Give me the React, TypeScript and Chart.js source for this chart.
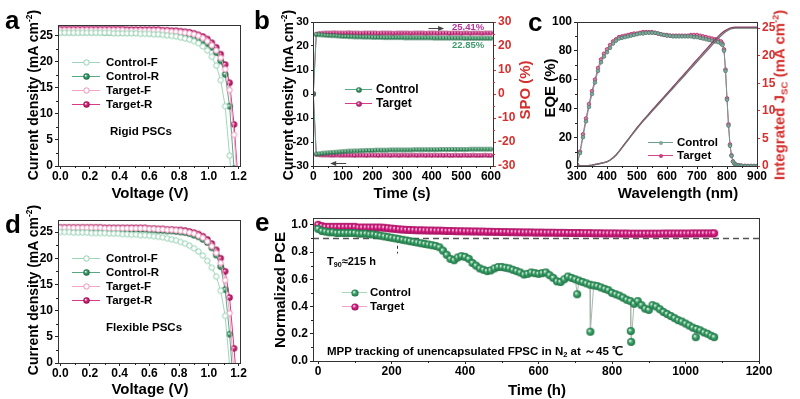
import React, { useEffect, useRef } from 'react';
import { Chart, registerables } from 'chart.js';

Chart.register(...registerables);

const FONT = "'Liberation Sans', Arial, Helvetica, sans-serif";
const W = 800;
const H = 399;

// ---------------- Panel a / d : J-V curves ----------------
const jvVoltage = [0, 0.03, 0.06, 0.09, 0.12, 0.15, 0.18, 0.21, 0.24, 0.27, 0.3, 0.33, 0.36, 0.39, 0.42, 0.45, 0.48, 0.51, 0.54, 0.57, 0.6, 0.63, 0.66, 0.69, 0.72, 0.75, 0.78, 0.81, 0.84, 0.87, 0.9, 0.93, 0.96, 0.99, 1.02, 1.05, 1.08, 1.11, 1.14, 1.17, 1.2];
const jvTicksX = [0, 0.2, 0.4, 0.6, 0.8, 1.0, 1.2];
const jvMinorX = [0.1, 0.3, 0.5, 0.7, 0.9, 1.1];
const jvTicksY = [0, 5, 10, 15, 20, 25];
const jvMinorY = [2.5, 7.5, 12.5, 17.5, 22.5];

const aControlF = [25.6, 25.6, 25.6, 25.6, 25.6, 25.6, 25.6, 25.6, 25.6, 25.6, 25.6, 25.6, 25.5, 25.5, 25.5, 25.5, 25.5, 25.5, 25.4, 25.4, 25.4, 25.3, 25.3, 25.2, 25.1, 25.0, 24.9, 24.7, 24.5, 24.3, 24.0, 23.6, 23.0, 22.2, 21.0, 19.3, 16.5, 11.5, 2.0, -10, null];
const aControlR = [25.8, 25.8, 25.8, 25.8, 25.8, 25.8, 25.8, 25.8, 25.8, 25.8, 25.7, 25.7, 25.7, 25.7, 25.7, 25.7, 25.7, 25.7, 25.7, 25.7, 25.6, 25.6, 25.5, 25.5, 25.4, 25.4, 25.3, 25.2, 25.1, 24.9, 24.7, 24.4, 24.0, 23.5, 22.8, 21.8, 20.2, 17.6, 11.5, -0.5, null];
const aTargetF = [26.1, 26.1, 26.1, 26.1, 26.1, 26.1, 26.1, 26.1, 26.1, 26.1, 26.1, 26.1, 26.1, 26.1, 26.1, 26.0, 26.0, 26.0, 26.0, 26.0, 26.0, 26.0, 26.0, 25.9, 25.9, 25.8, 25.8, 25.7, 25.6, 25.5, 25.3, 25.0, 24.6, 24.0, 23.2, 22.2, 20.8, 18.6, 14.6, 6.0, -6];
const aTargetR = [26.3, 26.3, 26.3, 26.3, 26.3, 26.3, 26.3, 26.3, 26.3, 26.3, 26.3, 26.3, 26.3, 26.3, 26.3, 26.2, 26.2, 26.2, 26.2, 26.2, 26.2, 26.2, 26.2, 26.1, 26.1, 26.0, 26.0, 25.9, 25.8, 25.7, 25.5, 25.2, 24.9, 24.4, 23.7, 22.8, 21.5, 19.5, 16.0, 8.0, -4];

const dControlF = [25.0, 25.0, 25.0, 24.9, 24.9, 24.9, 24.9, 24.8, 24.8, 24.8, 24.8, 24.7, 24.7, 24.7, 24.6, 24.6, 24.5, 24.5, 24.4, 24.4, 24.3, 24.2, 24.1, 24.0, 23.8, 23.6, 23.4, 23.1, 22.8, 22.4, 21.9, 21.3, 20.5, 19.5, 18.2, 16.5, 13.8, 9.0, -0.5, null, null];
const dControlR = [25.6, 25.6, 25.6, 25.6, 25.6, 25.6, 25.6, 25.6, 25.6, 25.6, 25.5, 25.5, 25.5, 25.5, 25.5, 25.5, 25.5, 25.5, 25.5, 25.5, 25.4, 25.4, 25.3, 25.3, 25.2, 25.2, 25.1, 25.0, 24.9, 24.7, 24.4, 24.1, 23.6, 23.0, 22.0, 20.6, 18.4, 14.0, 5.5, -6, null];
const dTargetF = [25.8, 25.8, 25.8, 25.8, 25.8, 25.8, 25.8, 25.8, 25.8, 25.8, 25.7, 25.7, 25.7, 25.7, 25.7, 25.7, 25.7, 25.7, 25.7, 25.7, 25.6, 25.6, 25.5, 25.5, 25.4, 25.4, 25.3, 25.2, 25.1, 24.9, 24.7, 24.3, 23.9, 23.2, 22.3, 21.0, 19.1, 15.8, 9.5, -2, null];
const dTargetR = [25.9, 25.9, 25.9, 25.9, 25.9, 25.9, 25.9, 25.9, 25.9, 25.9, 25.8, 25.8, 25.8, 25.8, 25.8, 25.8, 25.8, 25.8, 25.8, 25.8, 25.7, 25.7, 25.6, 25.6, 25.5, 25.5, 25.4, 25.4, 25.3, 25.1, 24.9, 24.6, 24.2, 23.6, 22.8, 21.6, 20.0, 17.5, 12.5, 2.8, -8];

// ---------------- Panel b : steady-state output ----------------
const bTime = [0, 10, 20, 30, 40, 50, 60, 70, 80, 90, 100, 110, 120, 130, 140, 150, 160, 170, 180, 190, 200, 210, 220, 230, 240, 250, 260, 270, 280, 290, 300, 310, 320, 330, 340, 350, 360, 370, 380, 390, 400, 410, 420, 430, 440, 450, 460, 470, 480, 490, 500, 510, 520, 530, 540, 550, 560, 570, 580, 590, 600];
const bTicksX = [0, 100, 200, 300, 400, 500, 600];
const bMinorX = [50, 150, 250, 350, 450, 550];
const bTicksY = [-30, -20, -10, 0, 10, 20, 30];
const bMinorY = [-25, -15, -5, 5, 15, 25];
const bControlJ = [0, -25.0, -24.9, -24.7, -24.6, -24.5, -24.4, -24.3, -24.2, -24.1, -24.0,
  -23.9, -23.8, -23.8, -23.7, -23.7, -23.6, -23.6, -23.5, -23.5, -23.5,
  -23.4, -23.4, -23.4, -23.4, -23.4, -23.3, -23.3, -23.3, -23.3, -23.3,
  -23.3, -23.3, -23.3, -23.2, -23.2, -23.2, -23.2, -23.2, -23.2, -23.2,
  -23.2, -23.2, -23.1, -23.1, -23.1, -23.1, -23.1, -23.1, -23.1, -23.1,
  -23.1, -23.1, -23.0, -23.0, -23.0, -23.0, -23.0, -23.0, -23.0, -23.0];
const bTargetJ = [0, -25.2, -25.3, -25.4, -25.4, -25.4, -25.5, -25.5, -25.4, -25.5, -25.5,
  -25.5, -25.5, -25.5, -25.6, -25.5, -25.5, -25.5, -25.6, -25.5, -25.5,
  -25.5, -25.6, -25.5, -25.5, -25.5, -25.6, -25.5, -25.5, -25.6, -25.5,
  -25.5, -25.6, -25.5, -25.5, -25.6, -25.5, -25.5, -25.6, -25.5, -25.6,
  -25.5, -25.6, -25.5, -25.6, -25.5, -25.6, -25.6, -25.5, -25.6, -25.6,
  -25.5, -25.6, -25.6, -25.5, -25.6, -25.6, -25.6, -25.5, -25.6, -25.6];
const bControlSPO = [0, 24.8, 24.7, 24.6, 24.5, 24.4, 24.3, 24.3, 24.2, 24.1, 24.0,
  24.0, 23.9, 23.9, 23.8, 23.8, 23.8, 23.7, 23.7, 23.7, 23.6,
  23.6, 23.6, 23.6, 23.5, 23.5, 23.5, 23.5, 23.5, 23.5, 23.5,
  23.4, 23.4, 23.4, 23.4, 23.4, 23.4, 23.4, 23.4, 23.4, 23.4,
  23.3, 23.3, 23.3, 23.3, 23.3, 23.3, 23.3, 23.3, 23.3, 23.3,
  23.2, 23.2, 23.2, 23.2, 23.2, 23.2, 23.2, 23.2, 23.2, 23.2];
const bTargetSPO = [0, 24.9, 25.2, 25.3, 25.4, 25.4, 25.4, 25.5, 25.4, 25.4, 25.4,
  25.4, 25.5, 25.4, 25.4, 25.4, 25.3, 25.4, 25.4, 25.4, 25.4,
  25.4, 25.3, 25.4, 25.4, 25.4, 25.4, 25.3, 25.4, 25.4, 25.4,
  25.4, 25.4, 25.3, 25.4, 25.4, 25.4, 25.4, 25.3, 25.4, 25.4,
  25.4, 25.3, 25.4, 25.4, 25.4, 25.3, 25.4, 25.4, 25.4, 25.3,
  25.4, 25.4, 25.3, 25.4, 25.4, 25.4, 25.3, 25.4, 25.4, 25.4];

// ---------------- Panel c : EQE ----------------
const cWavelength = [300, 310, 320, 330, 340, 350, 360, 370, 380, 390, 400, 410, 420, 430, 440, 450, 460, 470, 480, 490, 500, 510, 520, 530, 540, 550, 560, 570, 580, 590, 600, 610, 620, 630, 640, 650, 660, 670, 680, 690, 700, 710, 720, 730, 740, 750, 760, 770, 780, 785, 790, 795, 800, 805, 810, 815, 820, 825, 830, 835, 840, 845, 850, 860, 870, 880, 890, 900];
const cControlEQE = [1, 9, 20, 31, 41, 50, 58, 66, 72, 76,
  79, 82, 85, 87, 88.5, 89, 89.5, 90, 90.5, 91,
  91.5, 92, 92, 92.5, 92.5, 92.5, 92.5, 92, 91.5, 91,
  90.5, 90.5, 90, 90, 90, 90, 90, 90, 90, 89.5,
  89.5, 89, 88.5, 88, 87.5, 87, 86.5, 86, 85,
  84, 80, 66, 46, 28, 14, 7, 3, 1.5, 0.8, 0.5, 0.3, 0.2, 0.1,
  0, 0, 0, 0, 0];
const cTargetEQE = [1, 10, 22, 33, 43, 52, 60, 68, 74, 78,
  81, 84, 86.5, 88, 89.5, 90, 90.5, 91, 91.5, 92,
  92, 92.5, 93, 93, 93, 93, 92.5, 92, 91.5, 91,
  91, 90.5, 90.5, 90.5, 90.5, 90.5, 90.5, 90.5, 91, 91,
  91, 90.5, 90, 89.5, 89, 88.5, 88, 87.5, 86.5,
  85, 81, 67, 47, 29, 15, 7.5, 3.2, 1.6, 0.9, 0.5, 0.3, 0.2, 0.1,
  0.1, 0, 0, 0, 0];
const cJscWavelength = [300, 310, 320, 330, 340, 350, 360, 370, 380, 390, 400, 410, 420, 430, 440, 450, 460, 470, 480, 490, 500, 510, 520, 530, 540, 550, 560, 570, 580, 590, 600, 610, 620, 630, 640, 650, 660, 670, 680, 690, 700, 710, 720, 730, 740, 750, 760, 770, 780, 790, 800, 810, 820, 830, 840, 850, 860, 870, 880, 890, 900];
const cControlJsc = [0, 0, 0.02, 0.05, 0.1, 0.17, 0.26, 0.36, 0.48, 0.6,
  0.75, 1.05, 1.45, 1.95, 2.6, 3.3, 4.0, 4.7, 5.4, 6.1,
  6.8, 7.45, 8.1, 8.7, 9.3, 9.9, 10.5, 11.1, 11.7, 12.3,
  12.9, 13.5, 14.1, 14.7, 15.3, 15.9, 16.5, 17.1, 17.7, 18.3,
  18.9, 19.5, 20.1, 20.7, 21.3, 21.9, 22.5, 23.1, 23.6, 24.1,
  24.5, 24.8, 24.95, 25.0, 25.0, 25.0, 25.0, 25.0, 25.0, 25.0,
  25.0];
const cTargetJsc = [0, 0, 0.02, 0.05, 0.1, 0.17, 0.27, 0.38, 0.5, 0.63,
  0.78, 1.08, 1.5, 2.0, 2.66, 3.37, 4.08, 4.8, 5.51, 6.22,
  6.93, 7.6, 8.26, 8.87, 9.48, 10.1, 10.71, 11.32, 11.93, 12.54,
  13.15, 13.76, 14.37, 14.98, 15.6, 16.21, 16.82, 17.43, 18.05, 18.66,
  19.27, 19.88, 20.49, 21.1, 21.7, 22.3, 22.9, 23.45, 23.95, 24.4,
  24.75, 25.0, 25.12, 25.15, 25.15, 25.15, 25.15, 25.15, 25.15, 25.15,
  25.15];
const cTicksX = [300, 400, 500, 600, 700, 800, 900];
const cMinorX = [350, 450, 550, 650, 750, 850];
const cTicksY = [0, 20, 40, 60, 80, 100];
const cMinorY = [10, 30, 50, 70, 90];
const cTicksY2 = [0, 5, 10, 15, 20, 25];

// ---------------- Panel e : MPP stability ----------------
const eControlTime = [0, 10, 20, 30, 40, 50, 60, 70, 80, 90,
  100, 110, 120, 130, 140, 150, 160, 170, 180, 190,
  200, 210, 220, 230, 240, 250, 260, 270, 280, 290,
  300, 310, 320, 330, 340, 350, 360, 370, 380, 390,
  400, 410, 420, 430, 440, 450, 460, 470, 480, 490,
  500, 510, 520, 530, 540, 550, 560, 570, 580, 590,
  600, 610, 620, 630, 640, 650, 660, 670, 680, 690,
  700, 705, 710, 720, 730, 740, 741, 750, 760, 770, 780, 790,
  800, 810, 820, 830, 840, 850, 851, 852, 860, 870, 880, 890,
  900, 910, 920, 930, 940, 950, 960, 970, 980, 990,
  1000, 1010, 1020, 1028, 1030, 1040, 1050, 1060, 1070, 1078];
const eControlPCE = [0.97, 0.955, 0.95, 0.945, 0.945, 0.94, 0.94, 0.94, 0.94, 0.94,
  0.94, 0.935, 0.935, 0.935, 0.93, 0.93, 0.925, 0.92, 0.915, 0.91,
  0.905, 0.9, 0.895, 0.89, 0.885, 0.88, 0.875, 0.87, 0.865, 0.86,
  0.855, 0.85, 0.845, 0.835, 0.81, 0.78, 0.75, 0.74, 0.76, 0.77,
  0.765, 0.75, 0.72, 0.7, 0.68, 0.67, 0.66, 0.665, 0.68, 0.69,
  0.69, 0.685, 0.68, 0.67, 0.66, 0.65, 0.635, 0.64, 0.65, 0.645,
  0.64, 0.645, 0.65, 0.63, 0.61, 0.585, 0.58, 0.6, 0.62, 0.61,
  0.6, 0.49, 0.59, 0.58, 0.57, 0.56, 0.215, 0.555, 0.55, 0.54, 0.53, 0.52,
  0.5, 0.49, 0.48, 0.465, 0.45, 0.44, 0.22, 0.14, 0.42, 0.44, 0.41, 0.385,
  0.375, 0.41, 0.4, 0.38, 0.36, 0.345, 0.33, 0.315, 0.3, 0.29,
  0.275, 0.26, 0.245, 0.175, 0.235, 0.225, 0.21, 0.2, 0.185, 0.175];
const eTargetTime = [0, 10, 20, 30, 40, 50, 60, 70, 80, 90, 100,
  110, 120, 130, 140, 150, 160, 170, 180, 190, 200,
  210, 220, 230, 240, 250, 260, 270, 280, 290, 300,
  310, 320, 330, 340, 350, 360, 370, 380, 390, 400,
  410, 420, 430, 440, 450, 460, 470, 480, 490, 500,
  510, 520, 530, 540, 550, 560, 570, 580, 590, 600,
  610, 620, 630, 640, 650, 660, 670, 680, 690, 700,
  710, 720, 730, 740, 750, 760, 770, 780, 790, 800,
  810, 820, 830, 840, 850, 860, 870, 880, 890, 900,
  910, 920, 930, 940, 950, 960, 970, 980, 990, 1000,
  1010, 1020, 1030, 1040, 1050, 1060, 1070, 1078];
const eTargetPCE = [1.0, 0.99, 0.985, 0.985, 0.985, 0.985, 0.985, 0.985, 0.985, 0.985, 0.985,
  0.98, 0.98, 0.98, 0.98, 0.98, 0.98, 0.98, 0.978, 0.975, 0.972,
  0.97, 0.967, 0.965, 0.963, 0.962, 0.961, 0.96, 0.96, 0.959, 0.958,
  0.958, 0.957, 0.957, 0.956, 0.955, 0.955, 0.954, 0.953, 0.953, 0.952,
  0.952, 0.951, 0.951, 0.95, 0.95, 0.949, 0.949, 0.948, 0.948, 0.947,
  0.947, 0.946, 0.946, 0.945, 0.945, 0.944, 0.944, 0.944, 0.943, 0.943,
  0.943, 0.942, 0.942, 0.942, 0.941, 0.941, 0.941, 0.94, 0.94, 0.94,
  0.94, 0.939, 0.939, 0.939, 0.938, 0.938, 0.938, 0.937, 0.937, 0.937,
  0.937, 0.936, 0.936, 0.936, 0.935, 0.935, 0.935, 0.935, 0.935, 0.935,
  0.935, 0.935, 0.935, 0.936, 0.936, 0.936, 0.936, 0.936, 0.936, 0.936,
  0.936, 0.937, 0.937, 0.937, 0.937, 0.937, 0.937, 0.938];
const eTicksX = [0, 200, 400, 600, 800, 1000, 1200];
const eMinorX = [100, 300, 500, 700, 900, 1100];
const eTicksY = [0, 0.2, 0.4, 0.6, 0.8, 1.0];
const eMinorY = [0.1, 0.3, 0.5, 0.7, 0.9];
const eT90 = 215;
const eThreshold = 0.9;

// ---------------- helpers ----------------
function xy(xs: number[], ys: (number | null)[]) {
  return xs.map((x, i) => ({ x, y: ys[i] }));
}

function sphere(color: string, dark: string, r: number) {
  const s = Math.ceil(r * 2 + 2);
  const c = document.createElement('canvas');
  c.width = s;
  c.height = s;
  const g = c.getContext('2d')!;
  const cx = s / 2, cy = s / 2;
  const grad = g.createRadialGradient(cx - r * 0.3, cy - r * 0.3, r * 0.05, cx, cy, r);
  grad.addColorStop(0, '#ffffff');
  grad.addColorStop(0.4, color);
  grad.addColorStop(1, dark);
  g.fillStyle = grad;
  g.beginPath();
  g.arc(cx, cy, r, 0, Math.PI * 2);
  g.fill();
  return c;
}

function openCircle(stroke: string, r: number) {
  const s = Math.ceil(r * 2 + 2);
  const c = document.createElement('canvas');
  c.width = s;
  c.height = s;
  const g = c.getContext('2d')!;
  g.fillStyle = '#ffffff';
  g.strokeStyle = stroke;
  g.lineWidth = 1;
  g.beginPath();
  g.arc(s / 2, s / 2, r - 0.5, 0, Math.PI * 2);
  g.fill();
  g.stroke();
  return c;
}

function dot(color: string, r: number) {
  const s = Math.ceil(r * 2 + 2);
  const c = document.createElement('canvas');
  c.width = s;
  c.height = s;
  const g = c.getContext('2d')!;
  g.fillStyle = color;
  g.beginPath();
  g.arc(s / 2, s / 2, r, 0, Math.PI * 2);
  g.fill();
  return c;
}

function axis(position: string, min: number, max: number, ticks: number[], size: number, opts: { color?: string; fmt?: (v: number) => string; tickColor?: string; fontSize?: number; tickLength?: number } = {}) {
  const color = opts.color || '#000';
  const horizontal = position === 'bottom' || position === 'top';
  return {
    type: 'linear',
    position,
    min,
    max,
    afterBuildTicks: (s: any) => {
      s.ticks = ticks.map((v) => ({ value: v }));
    },
    afterFit: (s: any) => {
      if (horizontal) s.height = size;
      else s.width = size;
    },
    grid: { display: true, drawOnChartArea: false, drawTicks: true, tickLength: opts.tickLength ?? 3, color: opts.tickColor || '#222', lineWidth: 1 },
    border: { display: true, color: '#222', width: 1 },
    ticks: {
      autoSkip: false,
      maxRotation: 0,
      minRotation: 0,
      padding: horizontal ? 0 : 2,
      color,
      font: { family: FONT, size: opts.fontSize || 12, weight: 'bold' },
      callback: (v: any) => (opts.fmt ? opts.fmt(Number(v)) : String(v)),
    },
  };
}

function makeDeco(d: any) {
  return {
    id: 'deco',
    beforeDatasetsDraw(chart: any) {
      const { ctx, chartArea: ca, scales } = chart;
      ctx.save();
      (d.hlines || []).forEach((h: any) => {
        const y = Math.round(scales[h.axis].getPixelForValue(h.value)) + 0.5;
        ctx.strokeStyle = h.color;
        ctx.lineWidth = h.width;
        ctx.setLineDash(h.dash);
        ctx.beginPath();
        ctx.moveTo(ca.left, y);
        ctx.lineTo(ca.right, y);
        ctx.stroke();
      });
      (d.vsegs || []).forEach((v: any) => {
        const x = Math.round(scales.x.getPixelForValue(v.x)) + 0.5;
        const y0 = scales[v.axis].getPixelForValue(v.y0);
        const y1 = scales[v.axis].getPixelForValue(v.y1);
        ctx.strokeStyle = v.color;
        ctx.lineWidth = 1;
        ctx.setLineDash(v.dash);
        ctx.beginPath();
        ctx.moveTo(x, y0);
        ctx.lineTo(x, y1);
        ctx.stroke();
      });
      ctx.restore();
    },
    afterDatasetsDraw(chart: any) {
      const { ctx, chartArea: ca, scales } = chart;
      ctx.save();
      ctx.setLineDash([]);
      if (d.frame) {
        ctx.strokeStyle = d.frame;
        ctx.lineWidth = 1;
        ctx.strokeRect(Math.round(ca.left) + 0.5, Math.round(ca.top) + 0.5, Math.round(ca.right - ca.left), Math.round(ca.bottom - ca.top));
      }
      // minor ticks
      (d.minor || []).forEach((m: any) => {
        const sc = scales[m.axis];
        ctx.strokeStyle = m.color || '#222';
        ctx.lineWidth = 1;
        m.values.forEach((v: number) => {
          const p = Math.round(sc.getPixelForValue(v)) + 0.5;
          ctx.beginPath();
          if (sc.position === 'bottom') {
            ctx.moveTo(p, sc.top);
            ctx.lineTo(p, sc.top + 2);
          } else if (sc.position === 'left') {
            ctx.moveTo(sc.right, p);
            ctx.lineTo(sc.right - 2, p);
          } else {
            ctx.moveTo(sc.left, p);
            ctx.lineTo(sc.left + 2, p);
          }
          ctx.stroke();
        });
      });
      (d.arrows || []).forEach((a: any) => {
        const x0 = scales.x.getPixelForValue(a.from);
        const x1 = scales.x.getPixelForValue(a.to);
        const y = Math.round(scales[a.axis].getPixelForValue(a.y)) + 0.5;
        const dir = Math.sign(x1 - x0);
        ctx.strokeStyle = a.color;
        ctx.fillStyle = a.color;
        ctx.lineWidth = 1;
        ctx.beginPath();
        ctx.moveTo(x0, y);
        ctx.lineTo(x1 - dir * 3, y);
        ctx.stroke();
        ctx.beginPath();
        ctx.moveTo(x1, y);
        ctx.lineTo(x1 - dir * 6, y - 2.5);
        ctx.lineTo(x1 - dir * 6, y + 2.5);
        ctx.closePath();
        ctx.fill();
      });
      const L = d.legend;
      if (L) {
        L.items.forEach((it: any, i: number) => {
          const y = L.ys[i];
          ctx.strokeStyle = it.line;
          ctx.lineWidth = 1;
          ctx.beginPath();
          ctx.moveTo(L.x0, y + 0.5);
          ctx.lineTo(L.x1, y + 0.5);
          ctx.stroke();
          const img = it.img;
          ctx.drawImage(img, Math.round((L.x0 + L.x1) / 2 - img.width / 2), Math.round(y - img.height / 2 + 0.5));
          ctx.fillStyle = '#000';
          ctx.font = `bold ${L.size}px ${FONT}`;
          ctx.textBaseline = 'middle';
          ctx.textAlign = 'left';
          ctx.fillText(it.label, L.tx, y + 1);
        });
      }
      ctx.restore();
    },
  };
}

function pad(left: number, right: number, top: number, bottom: number, yw: number, xh: number, rw: number) {
  return { left: left - yw, right: W - right - rw, top, bottom: H - bottom - xh };
}

function baseOptions(padding: any, scales: any) {
  return {
    responsive: false,
    animation: false,
    devicePixelRatio: 1,
    events: [],
    layout: { padding },
    plugins: { legend: { display: false }, tooltip: { enabled: false } },
    scales,
  };
}

const fmt1 = (v: number) => v.toFixed(1);

// ---------------- text helpers ----------------
const txtBase: React.CSSProperties = { position: 'absolute', whiteSpace: 'nowrap', fontFamily: FONT, fontWeight: 'bold', lineHeight: 1, color: '#000' };

function T(props: { x: number; y: number; size?: number; color?: string; center?: boolean; children: React.ReactNode }) {
  return (
    <div style={{ ...txtBase, left: props.x, top: props.y, fontSize: props.size || 12, color: props.color || '#000', transform: props.center ? 'translate(-50%,-50%)' : 'translate(0,-50%)' }}>
      {props.children}
    </div>
  );
}

function VT(props: { x: number; y: number; size?: number; color?: string; children: React.ReactNode }) {
  return (
    <div style={{ ...txtBase, left: props.x, top: props.y, fontSize: props.size || 15, color: props.color || '#000', transform: 'translate(-50%,-50%) rotate(-90deg)' }}>
      {props.children}
    </div>
  );
}

const Sup = ({ children }: { children: React.ReactNode }) => <span style={{ fontSize: '0.6em', verticalAlign: '0.7em', lineHeight: 0 }}>{children}</span>;
const Sub = ({ children }: { children: React.ReactNode }) => <span style={{ fontSize: '0.65em', verticalAlign: '-0.3em', lineHeight: 0 }}>{children}</span>;

export default function App() {
  const rA = useRef<HTMLCanvasElement>(null);
  const rB = useRef<HTMLCanvasElement>(null);
  const rC = useRef<HTMLCanvasElement>(null);
  const rD = useRef<HTMLCanvasElement>(null);
  const rE = useRef<HTMLCanvasElement>(null);

  useEffect(() => {
    const charts: Chart[] = [];
    const GREEN = '#3d9c6c', GREEN_D = '#1e6842';
    const MAG = '#d6287c', MAG_D = '#8f0f4c';
    const ctrlF = openCircle('#8fcfae', 3.2);
    const ctrlR = sphere(GREEN, GREEN_D, 3.2);
    const tgtF = openCircle('#f08cb8', 3.2);
    const tgtR = sphere(MAG, MAG_D, 3.2);
    const LEG = 11.5;
    const RED = '#d4302e';

    const jvDatasets = (cf: any[], cr: any[], tf: any[], tr: any[]) => [
      { data: xy(jvVoltage, cf), borderColor: '#9fd6b9', borderWidth: 1, pointStyle: ctrlF, pointRadius: 3 },
      { data: xy(jvVoltage, tf), borderColor: '#f5a3c6', borderWidth: 1, pointStyle: tgtF, pointRadius: 3 },
      { data: xy(jvVoltage, cr), borderColor: '#5aa882', borderWidth: 1, pointStyle: ctrlR, pointRadius: 3 },
      { data: xy(jvVoltage, tr), borderColor: '#d83a86', borderWidth: 1, pointStyle: tgtR, pointRadius: 3 },
    ];
    const jvLegend = (ys: number[]) => ({
      x0: 72, x1: 100, tx: 106, ys, size: LEG,
      items: [
        { label: 'Control-F', line: '#9fd6b9', img: ctrlF },
        { label: 'Control-R', line: '#5aa882', img: ctrlR },
        { label: 'Target-F', line: '#f5a3c6', img: tgtF },
        { label: 'Target-R', line: '#d83a86', img: tgtR },
      ],
    });
    const jvMinor = [{ axis: 'x', values: jvMinorX }, { axis: 'y', values: jvMinorY }];

    // Panel a
    if (rA.current) {
      charts.push(new Chart(rA.current, {
        type: 'line',
        data: { datasets: jvDatasets(aControlF, aControlR, aTargetF, aTargetR) as any },
        options: baseOptions(pad(58, 240, 25, 166, 40, 20, 0), {
          x: axis('bottom', -0.015, 1.21, jvTicksX, 20, { fmt: fmt1 }),
          y: axis('left', 0, 27.1, jvTicksY, 40),
        }) as any,
        plugins: [makeDeco({ frame: '#333', minor: jvMinor, legend: jvLegend([62, 76, 90, 104]) })],
      }));
    }

    // Panel d
    if (rD.current) {
      charts.push(new Chart(rD.current, {
        type: 'line',
        data: { datasets: jvDatasets(dControlF, dControlR, dTargetF, dTargetR) as any },
        options: baseOptions(pad(58, 240, 220, 363, 40, 20, 0), {
          x: axis('bottom', -0.015, 1.21, jvTicksX, 20, { fmt: fmt1 }),
          y: axis('left', 0, 27.3, jvTicksY, 40),
        }) as any,
        plugins: [makeDeco({ frame: '#333', minor: jvMinor, legend: jvLegend([258, 272, 286, 300]) })],
      }));
    }

    // Panel b
    if (rB.current) {
      const bG = sphere('#3f9a68', '#1f6640', 2.3);
      const bM = sphere('#d8358a', '#8d0f50', 2.3);
      const bGl = sphere('#3f9a68', '#1f6640', 2.8);
      const bMl = sphere('#d8358a', '#8d0f50', 2.8);
      charts.push(new Chart(rB.current, {
        type: 'line',
        data: {
          datasets: [
            { data: xy(bTime, bControlJ), yAxisID: 'y', borderColor: '#5aa882', borderWidth: 1, pointStyle: bG, pointRadius: 2.5 },
            { data: xy(bTime, bTargetJ), yAxisID: 'y', borderColor: '#d83a86', borderWidth: 1, pointStyle: bM, pointRadius: 2.5 },
            { data: xy(bTime, bControlSPO), yAxisID: 'y1', borderColor: '#5aa882', borderWidth: 1, pointStyle: bG, pointRadius: 2.5 },
            { data: xy(bTime, bTargetSPO), yAxisID: 'y1', borderColor: '#d83a86', borderWidth: 1, pointStyle: bM, pointRadius: 2.5 },
          ] as any,
        },
        options: baseOptions(pad(313, 493, 22, 166, 40, 20, 30), {
          x: axis('bottom', -1, 607, bTicksX, 20),
          y: axis('left', -30, 30, bTicksY, 40, { fontSize: 11.5, tickLength: 2 }),
          y1: axis('right', -30, 30, bTicksY, 30, { color: RED, tickColor: RED }),
        }) as any,
        plugins: [makeDeco({
          frame: '#333',
          minor: [{ axis: 'x', values: bMinorX }, { axis: 'y1', values: bMinorY, color: RED }],
          arrows: [
            { from: 389, to: 442, y: 27.4, axis: 'y1', color: '#444' },
            { from: 111, to: 57, y: -28.9, axis: 'y', color: '#444' },
          ],
          legend: {
            x0: 345, x1: 372, tx: 376, ys: [89, 103], size: 12,
            items: [
              { label: 'Control', line: '#5aa882', img: bGl },
              { label: 'Target', line: '#d83a86', img: bMl },
            ],
          },
        })],
      }));
    }

    // Panel c
    if (rC.current) {
      const cG = '#6f9e90', cM = '#d4468a';
      charts.push(new Chart(rC.current, {
        type: 'line',
        data: {
          datasets: [
            { data: xy(cJscWavelength, cControlJsc), yAxisID: 'y1', borderColor: '#707070', borderWidth: 1.3, pointRadius: 0 },
            { data: xy(cJscWavelength, cTargetJsc), yAxisID: 'y1', borderColor: '#8e3a62', borderWidth: 1.3, pointRadius: 0 },
            { data: xy(cWavelength, cControlEQE), yAxisID: 'y', borderColor: cG, borderWidth: 1, pointStyle: 'circle', pointRadius: 1.8, pointBackgroundColor: '#7fa99b', pointBorderColor: '#557a6e', pointBorderWidth: 0.8 },
            { data: xy(cWavelength, cTargetEQE), yAxisID: 'y', borderColor: cM, borderWidth: 1, pointStyle: 'circle', pointRadius: 1.8, pointBackgroundColor: '#e07aa8', pointBorderColor: '#b02a68', pointBorderWidth: 0.8 },
          ] as any,
        },
        options: baseOptions(pad(577, 757, 22, 166, 40, 20, 30), {
          x: axis('bottom', 300, 900, cTicksX, 20),
          y: axis('left', 0, 100, cTicksY, 40),
          y1: axis('right', 0, 26.1, cTicksY2, 30, { color: RED, tickColor: RED }),
        }) as any,
        plugins: [makeDeco({
          frame: '#333',
          minor: [{ axis: 'x', values: cMinorX }, { axis: 'y', values: cMinorY }],
          legend: {
            x0: 648, x1: 673, tx: 677, ys: [142, 155], size: LEG,
            items: [
              { label: 'Control', line: cG, img: dot('#7fa99b', 2) },
              { label: 'Target', line: cM, img: dot('#c8407e', 2) },
            ],
          },
        })],
      }));
    }

    // Panel e
    if (rE.current) {
      const eG = sphere('#40a86e', '#1f7043', 4);
      const eM = sphere('#e2238a', '#9a0c58', 4);
      const eGl = sphere('#40a86e', '#1f7043', 3.6);
      const eMl = sphere('#e2238a', '#9a0c58', 3.6);
      charts.push(new Chart(rE.current, {
        type: 'line',
        data: {
          datasets: [
            { data: xy(eControlTime, eControlPCE), borderColor: '#a9b8ae', borderWidth: 1, pointStyle: eG, pointRadius: 4 },
            { data: xy(eTargetTime, eTargetPCE), borderColor: '#f08cc0', borderWidth: 1, pointStyle: eM, pointRadius: 4 },
          ] as any,
        },
        options: baseOptions(pad(313, 759, 218, 361, 40, 20, 0), {
          x: axis('bottom', -14, 1200, eTicksX, 20),
          y: axis('left', 0, 1.05, eTicksY, 40, { fmt: fmt1 }),
        }) as any,
        plugins: [makeDeco({
          frame: '#333',
          minor: [{ axis: 'x', values: eMinorX }, { axis: 'y', values: eMinorY }],
          hlines: [{ axis: 'y', value: eThreshold, color: '#555', dash: [6, 4], width: 1.3 }],
          vsegs: [{ x: eT90, y0: 0.89, y1: 0.79, axis: 'y', color: '#333', dash: [3, 3] }],
          legend: {
            x0: 342, x1: 367, tx: 370, ys: [292, 306], size: LEG,
            items: [
              { label: 'Control', line: '#a9d7bb', img: eGl },
              { label: 'Target', line: '#f3a3c9', img: eMl },
            ],
          },
        })],
      }));
    }

    return () => charts.forEach((c) => c.destroy());
  }, []);

  const cv: React.CSSProperties = { position: 'absolute', left: 0, top: 0, width: W, height: H };

  return (
    <div style={{ position: 'absolute', left: 0, top: 0, width: W, height: H, background: '#fff', overflow: 'hidden' }}>
      <canvas ref={rA} width={W} height={H} style={cv} />
      <canvas ref={rB} width={W} height={H} style={cv} />
      <canvas ref={rC} width={W} height={H} style={cv} />
      <canvas ref={rD} width={W} height={H} style={cv} />
      <canvas ref={rE} width={W} height={H} style={cv} />

      {/* panel letters */}
      <div style={{ ...txtBase, left: 5, top: 7, fontSize: 26 }}>a</div>
      <div style={{ ...txtBase, left: 254, top: 7, fontSize: 26 }}>b</div>
      <div style={{ ...txtBase, left: 528, top: 9, fontSize: 26 }}>c</div>
      <div style={{ ...txtBase, left: 5, top: 211, fontSize: 26 }}>d</div>
      <div style={{ ...txtBase, left: 255, top: 209, fontSize: 26 }}>e</div>

      {/* panel a */}
      <VT x={33} y={95} size={14}>Current density (mA cm<Sup>-2</Sup>)</VT>
      <T x={150} y={192} size={15} center>Voltage (V)</T>
      <T x={110} y={132} size={11.5}>Rigid PSCs</T>

      {/* panel b */}
      <VT x={288} y={95} size={14}>Current density (mA cm<Sup>-2</Sup>)</VT>
      <VT x={524} y={90} size={15} color="#d4302e">SPO (%)</VT>
      <T x={402} y={192} size={15} center>Time (s)</T>
      <T x={452} y={27} size={9.5} color="#b3359a">25.41%</T>
      <T x={452} y={45} size={9.5} color="#3f9a6c">22.85%</T>

      {/* panel c */}
      <VT x={549} y={88} size={15}>EQE (%)</VT>
      <VT x={779} y={95} size={15} color="#d4302e">Integrated J<Sub>SC</Sub> (mA cm<Sup>-2</Sup>)</VT>
      <T x={678} y={192} size={15} center>Wavelength (nm)</T>

      {/* panel d */}
      <VT x={33} y={290} size={14}>Current density (mA cm<Sup>-2</Sup>)</VT>
      <T x={150} y={388} size={15} center>Voltage (V)</T>
      <T x={106} y={328} size={11.5}>Flexible PSCs</T>

      {/* panel e */}
      <VT x={279} y={290} size={15}>Normalized PCE</VT>
      <T x={537} y={389} size={15} center>Time (h)</T>
      <T x={327} y={261} size={11}>T<Sub>90</Sub>≈215 h</T>
      <T x={327} y={352} size={11.5}>MPP tracking of unencapsulated FPSC in N<Sub>2</Sub> at ～45 ℃</T>
    </div>
  );
}
